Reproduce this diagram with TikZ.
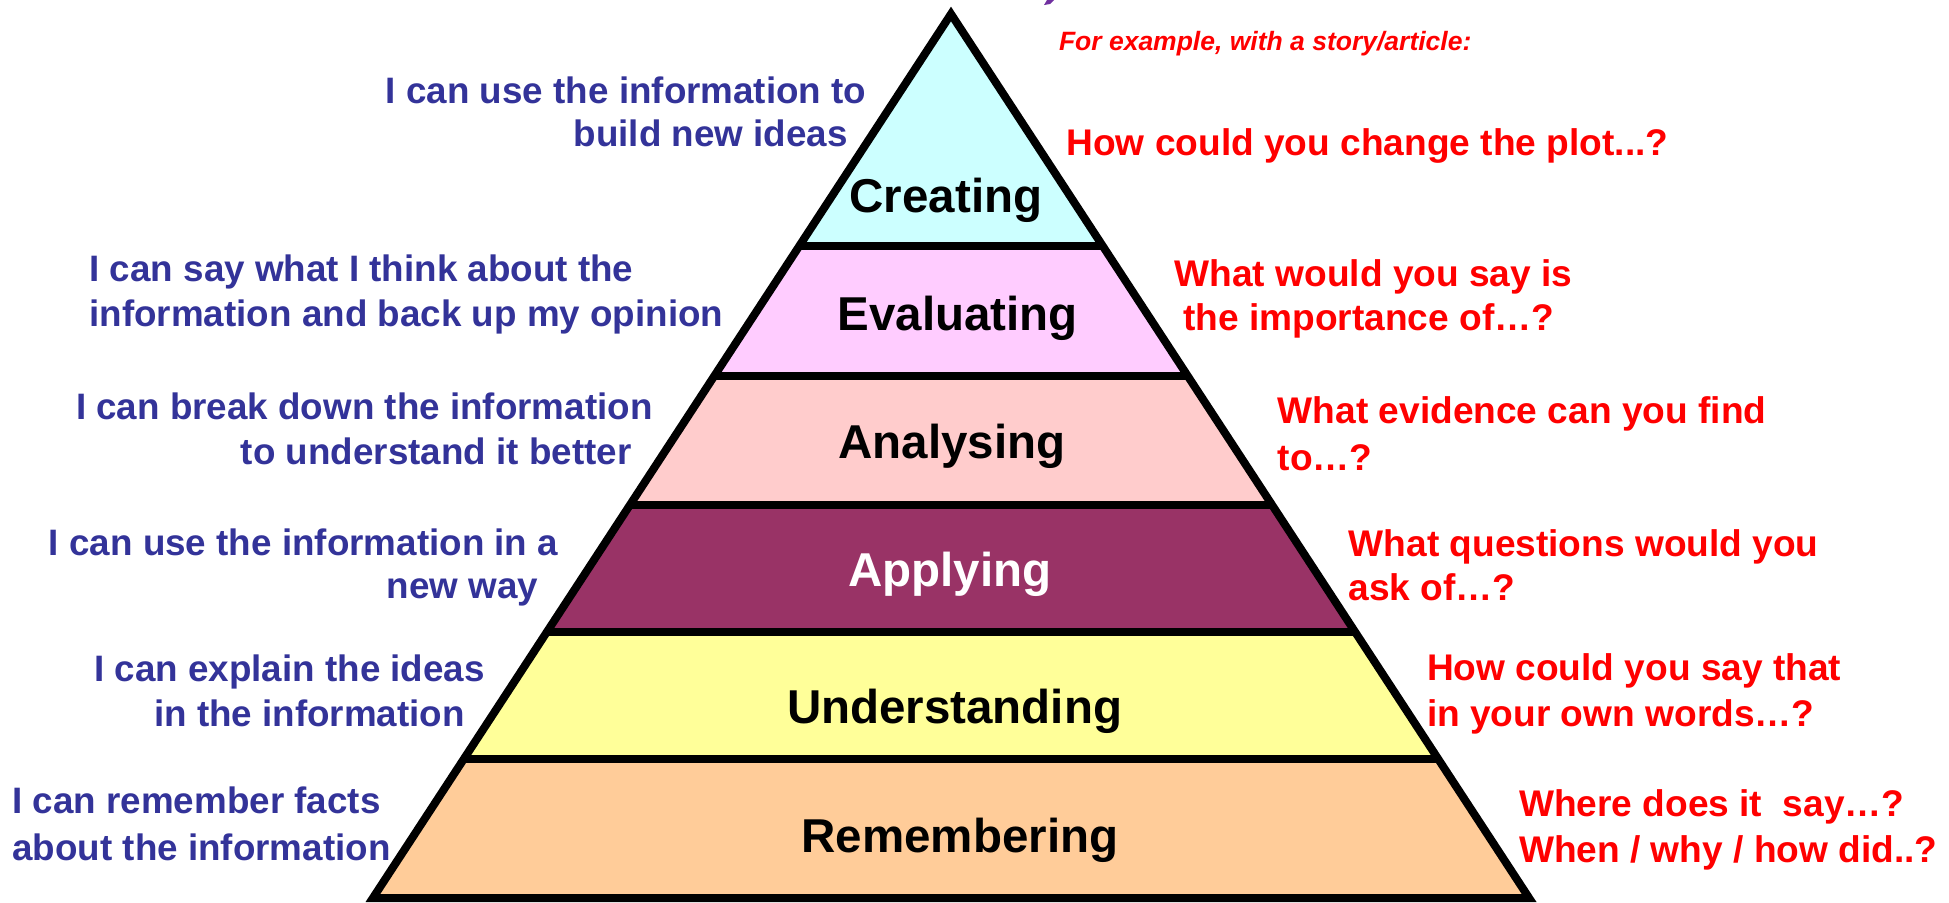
\documentclass[tikz,border=0pt]{standalone}
\usepackage{fontspec}
\setmainfont{Liberation Sans}
\definecolor{navy}{RGB}{51,51,153}
\definecolor{qred}{RGB}{255,0,0}
\definecolor{cCreate}{RGB}{204,255,255}
\definecolor{cEval}{RGB}{255,204,255}
\definecolor{cAnal}{RGB}{255,204,204}
\definecolor{cApply}{RGB}{153,51,102}
\definecolor{cUnder}{RGB}{255,255,153}
\definecolor{cRemem}{RGB}{255,204,153}
\definecolor{ttl}{RGB}{112,48,160}
\begin{document}
\begin{tikzpicture}[x=0.5pt,y=-0.5pt,
  lefttxt/.style={inner sep=0pt, outer sep=0pt, text=navy, font=\bfseries\fontsize{18.4pt}{22pt}\selectfont},
  righttxt/.style={inner sep=0pt, outer sep=0pt, text=qred, anchor=base west, font=\bfseries\fontsize{18.55pt}{22pt}\selectfont},
  tierlbl/.style={inner sep=0pt, outer sep=0pt, anchor=base, font=\bfseries\fontsize{23.75pt}{28pt}\selectfont},
  sepline/.style={line width=4pt},
  outline/.style={line width=4pt, line join=miter}]
\useasboundingbox (0,0) rectangle (1949,902);
% geometry
\coordinate (apex) at (951,14);
\coordinate (l1) at (799.3,246);  \coordinate (r1) at (1102.7,246);
\coordinate (l2) at (714.3,376);  \coordinate (r2) at (1187.7,376);
\coordinate (l3) at (629.9,505);  \coordinate (r3) at (1272.1,505);
\coordinate (l4) at (546.8,632);  \coordinate (r4) at (1355.2,632);
\coordinate (l5) at (463.8,759);  \coordinate (r5) at (1438.2,759);
\coordinate (l6) at (372.9,898);  \coordinate (r6) at (1529.1,898);
% fills
\fill[cCreate] (apex) -- (r1) -- (l1) -- cycle;
\fill[cEval] (l1) -- (r1) -- (r2) -- (l2) -- cycle;
\fill[cAnal] (l2) -- (r2) -- (r3) -- (l3) -- cycle;
\fill[cApply] (l3) -- (r3) -- (r4) -- (l4) -- cycle;
\fill[cUnder] (l4) -- (r4) -- (r5) -- (l5) -- cycle;
\fill[cRemem] (l5) -- (r5) -- (r6) -- (l6) -- cycle;
% separators and outline
\draw[sepline] (l1) -- (r1);
\draw[sepline] (l2) -- (r2);
\draw[sepline] (l3) -- (r3);
\draw[sepline] (l4) -- (r4);
\draw[sepline] (l5) -- (r5);
\draw[outline] (apex) -- (l6) -- (r6) -- cycle;
% cut-off title fragment
\fill[ttl] (1044,5) -- (1047,0) -- (1054,0) -- (1050,4) -- cycle;
% tier labels
\node[tierlbl] (tCreate) at (946,212) {Creating};
\node[tierlbl] (tEval) at (957.7,330) {Evaluating};
\node[tierlbl] (tAnal) at (952,458) {Analysing};
\node[tierlbl, text=white] (tApply) at (950,586) {Applying};
\node[tierlbl] (tUnder) at (954.6,723) {Understanding};
\node[tierlbl] (tRemem) at (960,852) {Remembering};
% left statements
\node[lefttxt, anchor=base east] (L1a) at (866.4,103.7) {I can use the information to};
\node[lefttxt, anchor=base east] (L1b) at (847.7,146) {build new ideas};
\node[lefttxt, anchor=base west] (L2a) at (89.5,281.5) {I can say what I think about the};
\node[lefttxt, anchor=base west] (L2b) at (89.5,326.2) {information and back up my opinion};
\node[lefttxt, anchor=base east] (L3a) at (652.6,419.5) {I can break down the information};
\node[lefttxt, anchor=base east] (L3b) at (631.4,464.2) {to understand it better};
\node[lefttxt, anchor=base east] (L4a) at (558.1,555) {I can use the information in a};
\node[lefttxt, anchor=base east] (L4b) at (538.2,598.5) {new way};
\node[lefttxt, anchor=base east] (L5a) at (484.8,681.7) {I can explain the ideas};
\node[lefttxt, anchor=base east] (L5b) at (464.9,726.5) {in the information};
\node[lefttxt, anchor=base west] (L6a) at (12.4,813.5) {I can remember facts};
\node[lefttxt, anchor=base west] (L6b) at (12.4,860.7) {about the information};
% right questions
\node[righttxt, font=\bfseries\itshape\fontsize{13.25pt}{16pt}\selectfont] (R0) at (1059,50.5) {For example, with a story/article:};
\node[righttxt] (R1) at (1066.5,155) {How could you change the plot...?};
\node[righttxt] (R2a) at (1174.6,286.8) {What would you say is};
\node[righttxt] (R2b) at (1183.3,330.3) {the importance of…?};
\node[righttxt] (R3a) at (1277.8,423.5) {What evidence can you find};
\node[righttxt] (R3b) at (1277.8,470.7) {to…?};
\node[righttxt] (R4a) at (1348.7,556.5) {What questions would you};
\node[righttxt] (R4b) at (1348.7,600) {ask of…?};
\node[righttxt] (R5a) at (1427,680.8) {How could you say that};
\node[righttxt] (R5b) at (1427,726.8) {in your own words…?};
\node[righttxt] (R6a) at (1519,816.3) {Where does it~~say…?};
\node[righttxt] (R6b) at (1519,862.3) {When / why / how did..?};
\end{tikzpicture}
\end{document}
